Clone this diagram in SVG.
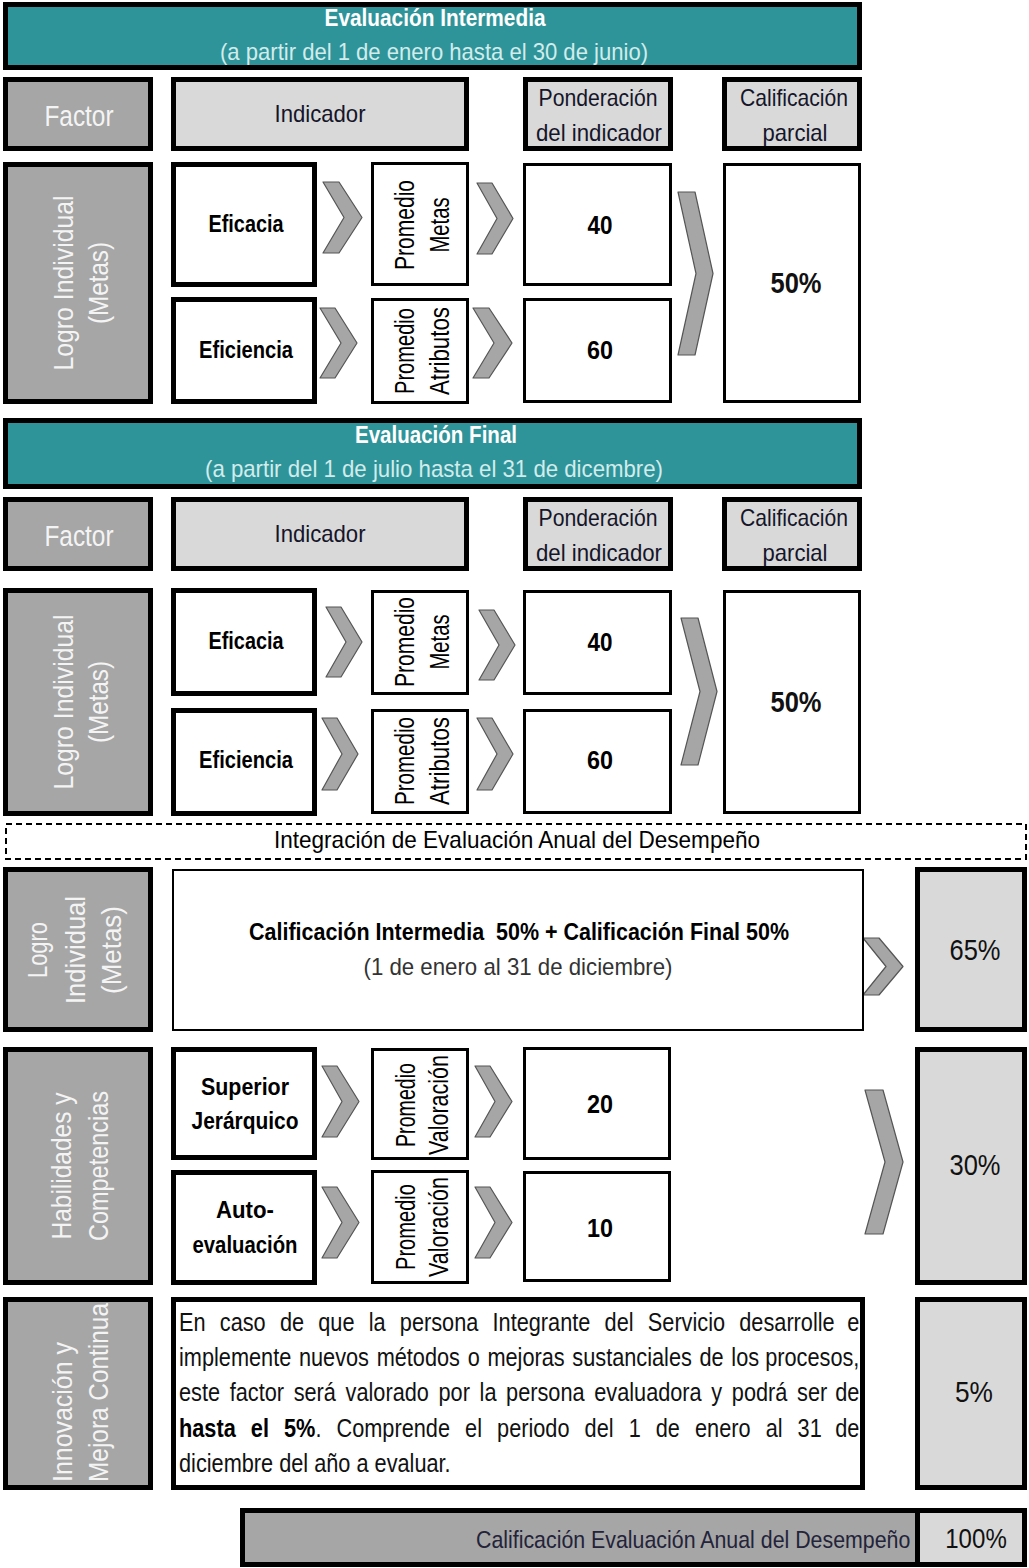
<svg xmlns="http://www.w3.org/2000/svg" width="1029" height="1568" viewBox="0 0 1029 1568">
<style>
text{font-family:"Liberation Sans Narrow","Arial Narrow","Liberation Sans",Arial,sans-serif;}
.teal{fill:#2f9499;stroke:#000;stroke-width:5}
.dk{fill:#a6a6a6;stroke:#000;stroke-width:5}
.lt{fill:#d9d9d9;stroke:#000;stroke-width:5}
.wt5{fill:#fff;stroke:#000;stroke-width:5}
.wt3{fill:#fff;stroke:#000;stroke-width:3}
.wt2{fill:#fff;stroke:#000;stroke-width:2}
.chev{fill:#a6a6a6;stroke:#555;stroke-width:1.2;stroke-linejoin:round}
.ttl{fill:#fff;font-weight:bold;font-size:24px;text-anchor:middle}
.sub{fill:#d2ecec;font-size:24px;text-anchor:middle}
.fac{fill:#f4f4f4;font-size:30px;text-anchor:middle}
.rot{fill:#f4f4f4;font-size:28px;text-anchor:middle}
.hd{fill:#15152a;font-size:24px;text-anchor:middle}
.bd{fill:#000;font-weight:bold;font-size:23px;text-anchor:middle}
.num{fill:#000;font-weight:bold;font-size:25px;text-anchor:middle}
.pct{fill:#111;font-size:30px;text-anchor:middle}
.prm{fill:#000;font-size:27px;text-anchor:middle}
.par{fill:#111;font-size:26.5px;font-family:"Liberation Sans",Arial,sans-serif}
.b{font-weight:bold;fill:#000}
</style>

<g id="connectors">
  <polygon class="chev" points="323,182 339,182 362,217.5 339,253 323,253 344,217.5"/>
  <polygon class="chev" points="320,308 335,308 357,343 335,378 320,378 341,343"/>
  <polygon class="chev" points="477,183 492,183 513,218.5 492,254 477,254 497,218.5"/>
  <polygon class="chev" points="473,308 489,308 512,343 489,378 473,378 494,343"/>
  <polygon class="chev" points="678,192 695,192 713,273.5 695,355 678,355 696,273.5"/>
  <polygon class="chev" points="326,607 341,607 362,642 341,677 326,677 346,642"/>
  <polygon class="chev" points="322,718 337,718 358,754 337,790 322,790 342,754"/>
  <polygon class="chev" points="479,610 494,610 515,645 494,680 479,680 499,645"/>
  <polygon class="chev" points="477,718 492,718 513,754 492,790 477,790 497,754"/>
  <polygon class="chev" points="681,618 698,618 717,691.5 698,765 681,765 700,691.5"/>
  <polygon class="chev" points="863,938 879,938 903,966.5 879,995 863,995 886,966.5"/>
  <polygon class="chev" points="322,1066 337,1066 359,1101.5 337,1137 322,1137 342,1101.5"/>
  <polygon class="chev" points="322,1187 337,1187 359,1222.5 337,1258 322,1258 342,1222.5"/>
  <polygon class="chev" points="475,1066 490,1066 512,1101.5 490,1137 475,1137 495,1101.5"/>
  <polygon class="chev" points="475,1187 490,1187 512,1222.5 490,1258 475,1258 495,1222.5"/>
  <polygon class="chev" points="865,1090 883,1090 903,1162 883,1234 865,1234 885,1162"/>
</g>

<!-- ===== Section 1: Evaluación Intermedia ===== -->
<g id="header-intermedia">
  <rect class="teal" x="5.5" y="4.5" width="854" height="63"/>
  <text class="ttl" x="435" y="26" textLength="221" lengthAdjust="spacingAndGlyphs">Evaluación Intermedia</text>
  <text class="sub" x="434" y="60" textLength="428" lengthAdjust="spacingAndGlyphs">(a partir del 1 de enero hasta el 30 de junio)</text>
</g>
<g id="s1-factor-hdr">
  <rect class="dk" x="5.5" y="79.5" width="145" height="69"/>
  <text class="fac" x="79" y="126" textLength="69" lengthAdjust="spacingAndGlyphs">Factor</text>
</g>
<g id="s1-indicador-hdr">
  <rect class="lt" x="173.5" y="79.5" width="293" height="69"/>
  <text class="hd" x="320" y="122" textLength="91" lengthAdjust="spacingAndGlyphs">Indicador</text>
</g>
<g id="s1-ponderacion-hdr">
  <rect class="lt" x="525.5" y="79.5" width="145" height="69"/>
  <text class="hd" x="598" y="106" textLength="119" lengthAdjust="spacingAndGlyphs">Ponderación</text>
  <text class="hd" x="599" y="141" textLength="126" lengthAdjust="spacingAndGlyphs">del indicador</text>
</g>
<g id="s1-calificacion-hdr">
  <rect class="lt" x="724.5" y="79.5" width="135" height="69"/>
  <text class="hd" x="794" y="106" textLength="108" lengthAdjust="spacingAndGlyphs">Calificación</text>
  <text class="hd" x="795" y="141" textLength="65" lengthAdjust="spacingAndGlyphs">parcial</text>
</g>
<g id="s1-factor">
  <rect class="dk" x="5.5" y="164.5" width="145" height="237"/>
  <g transform="translate(78,283) rotate(-90)">
    <text class="rot" x="0" y="-5" textLength="175" lengthAdjust="spacingAndGlyphs">Logro Individual</text>
    <text class="rot" x="0" y="30" textLength="82" lengthAdjust="spacingAndGlyphs">(Metas)</text>
  </g>
</g>
<g id="s1-eficacia">
  <rect class="wt5" x="173.5" y="164.5" width="141" height="120"/>
  <text class="bd" x="246" y="232" textLength="75" lengthAdjust="spacingAndGlyphs">Eficacia</text>
</g>
<g id="s1-eficiencia">
  <rect class="wt5" x="173.5" y="299.5" width="141" height="102"/>
  <text class="bd" x="246" y="358" textLength="94" lengthAdjust="spacingAndGlyphs">Eficiencia</text>
</g>
<g id="s1-prom-metas">
  <rect class="wt3" x="372.5" y="163.5" width="95" height="121"/>
  <g transform="translate(420,225) rotate(-90)">
    <text class="prm" x="0" y="-6" textLength="90" lengthAdjust="spacingAndGlyphs">Promedio</text>
    <text class="prm" x="0" y="29" textLength="55" lengthAdjust="spacingAndGlyphs">Metas</text>
  </g>
</g>
<g id="s1-prom-atributos">
  <rect class="wt3" x="372.5" y="299.5" width="95" height="103"/>
  <g transform="translate(420,351) rotate(-90)">
    <text class="prm" x="0" y="-6" textLength="86" lengthAdjust="spacingAndGlyphs">Promedio</text>
    <text class="prm" x="0" y="29" textLength="88" lengthAdjust="spacingAndGlyphs">Atributos</text>
  </g>
</g>
<g id="s1-pond40">
  <rect class="wt3" x="524.5" y="164.5" width="146" height="120"/>
  <text class="num" x="600" y="234" textLength="25" lengthAdjust="spacingAndGlyphs">40</text>
</g>
<g id="s1-pond60">
  <rect class="wt3" x="524.5" y="299.5" width="146" height="102"/>
  <text class="num" x="600" y="359" textLength="26" lengthAdjust="spacingAndGlyphs">60</text>
</g>
<g id="s1-calif50">
  <rect class="wt3" x="724.5" y="164.5" width="135" height="237"/>
  <text class="pct" x="796" y="293" textLength="51" lengthAdjust="spacingAndGlyphs" font-weight="bold">50%</text>
</g>

<!-- ===== Section 2: Evaluación Final ===== -->
<g id="header-final">
  <rect class="teal" x="5.5" y="420.5" width="854" height="66"/>
  <text class="ttl" x="436" y="443" textLength="162" lengthAdjust="spacingAndGlyphs">Evaluación Final</text>
  <text class="sub" x="434" y="477" textLength="458" lengthAdjust="spacingAndGlyphs">(a partir del 1 de julio hasta el 31 de dicembre)</text>
</g>
<g id="s2-factor-hdr">
  <rect class="dk" x="5.5" y="499.5" width="145" height="69"/>
  <text class="fac" x="79" y="546" textLength="69" lengthAdjust="spacingAndGlyphs">Factor</text>
</g>
<g id="s2-indicador-hdr">
  <rect class="lt" x="173.5" y="499.5" width="293" height="69"/>
  <text class="hd" x="320" y="542" textLength="91" lengthAdjust="spacingAndGlyphs">Indicador</text>
</g>
<g id="s2-ponderacion-hdr">
  <rect class="lt" x="525.5" y="499.5" width="145" height="69"/>
  <text class="hd" x="598" y="526" textLength="119" lengthAdjust="spacingAndGlyphs">Ponderación</text>
  <text class="hd" x="599" y="561" textLength="126" lengthAdjust="spacingAndGlyphs">del indicador</text>
</g>
<g id="s2-calificacion-hdr">
  <rect class="lt" x="724.5" y="499.5" width="135" height="69"/>
  <text class="hd" x="794" y="526" textLength="108" lengthAdjust="spacingAndGlyphs">Calificación</text>
  <text class="hd" x="795" y="561" textLength="65" lengthAdjust="spacingAndGlyphs">parcial</text>
</g>
<g id="s2-factor">
  <rect class="dk" x="5.5" y="590.5" width="145" height="223"/>
  <g transform="translate(78,702) rotate(-90)">
    <text class="rot" x="0" y="-5" textLength="175" lengthAdjust="spacingAndGlyphs">Logro Individual</text>
    <text class="rot" x="0" y="30" textLength="82" lengthAdjust="spacingAndGlyphs">(Metas)</text>
  </g>
</g>
<g id="s2-eficacia">
  <rect class="wt5" x="173.5" y="590.5" width="141" height="103"/>
  <text class="bd" x="246" y="649" textLength="75" lengthAdjust="spacingAndGlyphs">Eficacia</text>
</g>
<g id="s2-eficiencia">
  <rect class="wt5" x="173.5" y="710.5" width="141" height="103"/>
  <text class="bd" x="246" y="768" textLength="94" lengthAdjust="spacingAndGlyphs">Eficiencia</text>
</g>
<g id="s2-prom-metas">
  <rect class="wt3" x="372.5" y="591.5" width="95" height="102"/>
  <g transform="translate(420,642) rotate(-90)">
    <text class="prm" x="0" y="-6" textLength="90" lengthAdjust="spacingAndGlyphs">Promedio</text>
    <text class="prm" x="0" y="29" textLength="55" lengthAdjust="spacingAndGlyphs">Metas</text>
  </g>
</g>
<g id="s2-prom-atributos">
  <rect class="wt3" x="372.5" y="710.5" width="95" height="102"/>
  <g transform="translate(420,761) rotate(-90)">
    <text class="prm" x="0" y="-6" textLength="88" lengthAdjust="spacingAndGlyphs">Promedio</text>
    <text class="prm" x="0" y="29" textLength="88" lengthAdjust="spacingAndGlyphs">Atributos</text>
  </g>
</g>
<g id="s2-pond40">
  <rect class="wt3" x="524.5" y="591.5" width="146" height="102"/>
  <text class="num" x="600" y="651" textLength="25" lengthAdjust="spacingAndGlyphs">40</text>
</g>
<g id="s2-pond60">
  <rect class="wt3" x="524.5" y="710.5" width="146" height="102"/>
  <text class="num" x="600" y="769" textLength="26" lengthAdjust="spacingAndGlyphs">60</text>
</g>
<g id="s2-calif50">
  <rect class="wt3" x="724.5" y="591.5" width="135" height="221"/>
  <text class="pct" x="796" y="712" textLength="51" lengthAdjust="spacingAndGlyphs" font-weight="bold">50%</text>
</g>

<!-- ===== Integración ===== -->
<g id="integracion-title">
  <rect x="6" y="824" width="1020" height="35" fill="#fff" stroke="#000" stroke-width="2" stroke-dasharray="6,4"/>
  <text class="hd" x="517" y="848" style="fill:#000" textLength="486" lengthAdjust="spacingAndGlyphs">Integración de Evaluación Anual del Desempeño</text>
</g>
<g id="i-factor-logro">
  <rect class="dk" x="5.5" y="869.5" width="145" height="160"/>
  <g transform="translate(78,950) rotate(-90)">
    <text class="rot" x="0" y="-31" font-size="26" textLength="56" lengthAdjust="spacingAndGlyphs">Logro</text>
    <text class="rot" x="0" y="7" font-size="26" textLength="108" lengthAdjust="spacingAndGlyphs">Individual</text>
    <text class="rot" x="0" y="43" font-size="26" textLength="88" lengthAdjust="spacingAndGlyphs">(Metas)</text>
  </g>
</g>
<g id="i-formula">
  <rect class="wt2" x="173" y="870" width="690" height="160"/>
  <text class="bd" x="519" y="940" style="white-space:pre" textLength="540" lengthAdjust="spacingAndGlyphs" font-size="24">Calificación Intermedia  50% + Calificación Final 50%</text>
  <text class="hd" x="518" y="975" style="fill:#333" font-size="22" textLength="309" lengthAdjust="spacingAndGlyphs">(1 de enero al 31 de diciembre)</text>
</g>
<g id="i-pct65">
  <rect class="lt" x="917.5" y="869.5" width="107" height="160"/>
  <text class="pct" x="975" y="960" textLength="51" lengthAdjust="spacingAndGlyphs">65%</text>
</g>

<!-- Habilidades -->
<g id="h-factor">
  <rect class="dk" x="5.5" y="1049.5" width="145" height="233"/>
  <g transform="translate(78,1166) rotate(-90)">
    <text class="rot" x="0" y="-7" textLength="147" lengthAdjust="spacingAndGlyphs">Habilidades y</text>
    <text class="rot" x="0" y="30" textLength="150" lengthAdjust="spacingAndGlyphs">Competencias</text>
  </g>
</g>
<g id="h-superior">
  <rect class="wt5" x="173.5" y="1049.5" width="141" height="108"/>
  <text class="bd" x="245" y="1095" textLength="88" lengthAdjust="spacingAndGlyphs">Superior</text>
  <text class="bd" x="245" y="1129" textLength="107" lengthAdjust="spacingAndGlyphs">Jerárquico</text>
</g>
<g id="h-auto">
  <rect class="wt5" x="173.5" y="1172.5" width="141" height="110"/>
  <text class="bd" x="245" y="1218" textLength="58" lengthAdjust="spacingAndGlyphs">Auto-</text>
  <text class="bd" x="245" y="1253" textLength="105" lengthAdjust="spacingAndGlyphs">evaluación</text>
</g>
<g id="h-prom1">
  <rect class="wt3" x="372.5" y="1049.5" width="95" height="109"/>
  <g transform="translate(420,1105) rotate(-90)">
    <text class="prm" x="0" y="-5" textLength="84" lengthAdjust="spacingAndGlyphs">Promedio</text>
    <text class="prm" x="0" y="28" textLength="100" lengthAdjust="spacingAndGlyphs">Valoración</text>
  </g>
</g>
<g id="h-prom2">
  <rect class="wt3" x="372.5" y="1171.5" width="95" height="111"/>
  <g transform="translate(420,1227) rotate(-90)">
    <text class="prm" x="0" y="-5" textLength="86" lengthAdjust="spacingAndGlyphs">Promedio</text>
    <text class="prm" x="0" y="28" textLength="100" lengthAdjust="spacingAndGlyphs">Valoración</text>
  </g>
</g>
<g id="h-pond20">
  <rect class="wt3" x="524.5" y="1048.5" width="145" height="110"/>
  <text class="num" x="600" y="1113" textLength="26" lengthAdjust="spacingAndGlyphs">20</text>
</g>
<g id="h-pond10">
  <rect class="wt3" x="524.5" y="1172.5" width="145" height="108"/>
  <text class="num" x="600" y="1237" textLength="26" lengthAdjust="spacingAndGlyphs">10</text>
</g>
<g id="h-pct30">
  <rect class="lt" x="917.5" y="1049.5" width="107" height="233"/>
  <text class="pct" x="975" y="1175" textLength="51" lengthAdjust="spacingAndGlyphs">30%</text>
</g>

<!-- Innovación -->
<g id="in-factor">
  <rect class="dk" x="5.5" y="1299.5" width="145" height="188"/>
  <g transform="translate(78,1482) rotate(-90)">
    <text class="rot" x="0" y="-6" style="text-anchor:start" textLength="140" lengthAdjust="spacingAndGlyphs">Innovación y</text>
    <text class="rot" x="0" y="30" style="text-anchor:start" textLength="179" lengthAdjust="spacingAndGlyphs">Mejora Continua</text>
  </g>
</g>
<g id="in-text">
  <rect class="wt5" x="173.5" y="1299.5" width="689" height="188"/>
  <g transform="scale(0.82,1)">
    <text class="par" y="1331"><tspan x="218.29">En</tspan><tspan x="268.03">caso</tspan><tspan x="341.33">de</tspan><tspan x="388.13">que</tspan><tspan x="449.66">la</tspan><tspan x="487.61">persona</tspan><tspan x="600.68">Integrante</tspan><tspan x="737.34">del</tspan><tspan x="790.02">Servicio</tspan><tspan x="901.58">desarrolle</tspan><tspan x="1048" text-anchor="end">e</tspan></text>
    <text class="par" y="1366"><tspan x="218.29">implemente</tspan><tspan x="364.58">nuevos</tspan><tspan x="459.36">métodos</tspan><tspan x="570.33">o</tspan><tspan x="594.4">mejoras</tspan><tspan x="697.97">sustanciales</tspan><tspan x="853.11">de</tspan><tspan x="891.92">los</tspan><tspan x="1048" text-anchor="end">procesos,</tspan></text>
    <text class="par" y="1401"><tspan x="218.29">este</tspan><tspan x="280.12">factor</tspan><tspan x="358.14">será</tspan><tspan x="421.42">valorado</tspan><tspan x="534.79">por</tspan><tspan x="584.82">la</tspan><tspan x="617.18">persona</tspan><tspan x="724.66">evaluadora</tspan><tspan x="867.5">y</tspan><tspan x="892.49">podrá</tspan><tspan x="971.99">ser</tspan><tspan x="1048" text-anchor="end">de</tspan></text>
    <text class="par" y="1437"><tspan x="218.29" class="b">hasta</tspan><tspan x="305.88" class="b">el</tspan><tspan x="346.35" class="b">5%</tspan><tspan>.</tspan><tspan x="410.38">Comprende</tspan><tspan x="567.19">el</tspan><tspan x="606.18">periodo</tspan><tspan x="712.93">del</tspan><tspan x="766.65">1</tspan><tspan x="799.75">de</tspan><tspan x="847.59">enero</tspan><tspan x="933.72">al</tspan><tspan x="972.71">31</tspan><tspan x="1048" text-anchor="end">de</tspan></text>
    <text class="par" x="218.29" y="1472">diciembre del año a evaluar.</text>
  </g>
</g>
<g id="in-pct5">
  <rect class="lt" x="917.5" y="1299.5" width="107" height="188"/>
  <text class="pct" x="974" y="1402" textLength="38" lengthAdjust="spacingAndGlyphs">5%</text>
</g>

<!-- Total -->
<g id="total">
  <rect class="dk" x="242.5" y="1510.5" width="675" height="54"/>
  <rect class="lt" x="917.5" y="1510.5" width="107" height="54"/>
  <g transform="translate(476,1548) scale(0.89,1)">
    <text x="0" y="0" style="font-family:'Liberation Sans',Arial,sans-serif;font-size:24px;fill:#23233a">Calificación Evaluación Anual del Desempeño</text>
  </g>
  <g transform="translate(976,1548) scale(0.86,1)">
    <text x="0" y="0" style="font-family:'Liberation Sans',Arial,sans-serif;font-size:28px;fill:#111;text-anchor:middle">100%</text>
  </g>
</g>
</svg>
